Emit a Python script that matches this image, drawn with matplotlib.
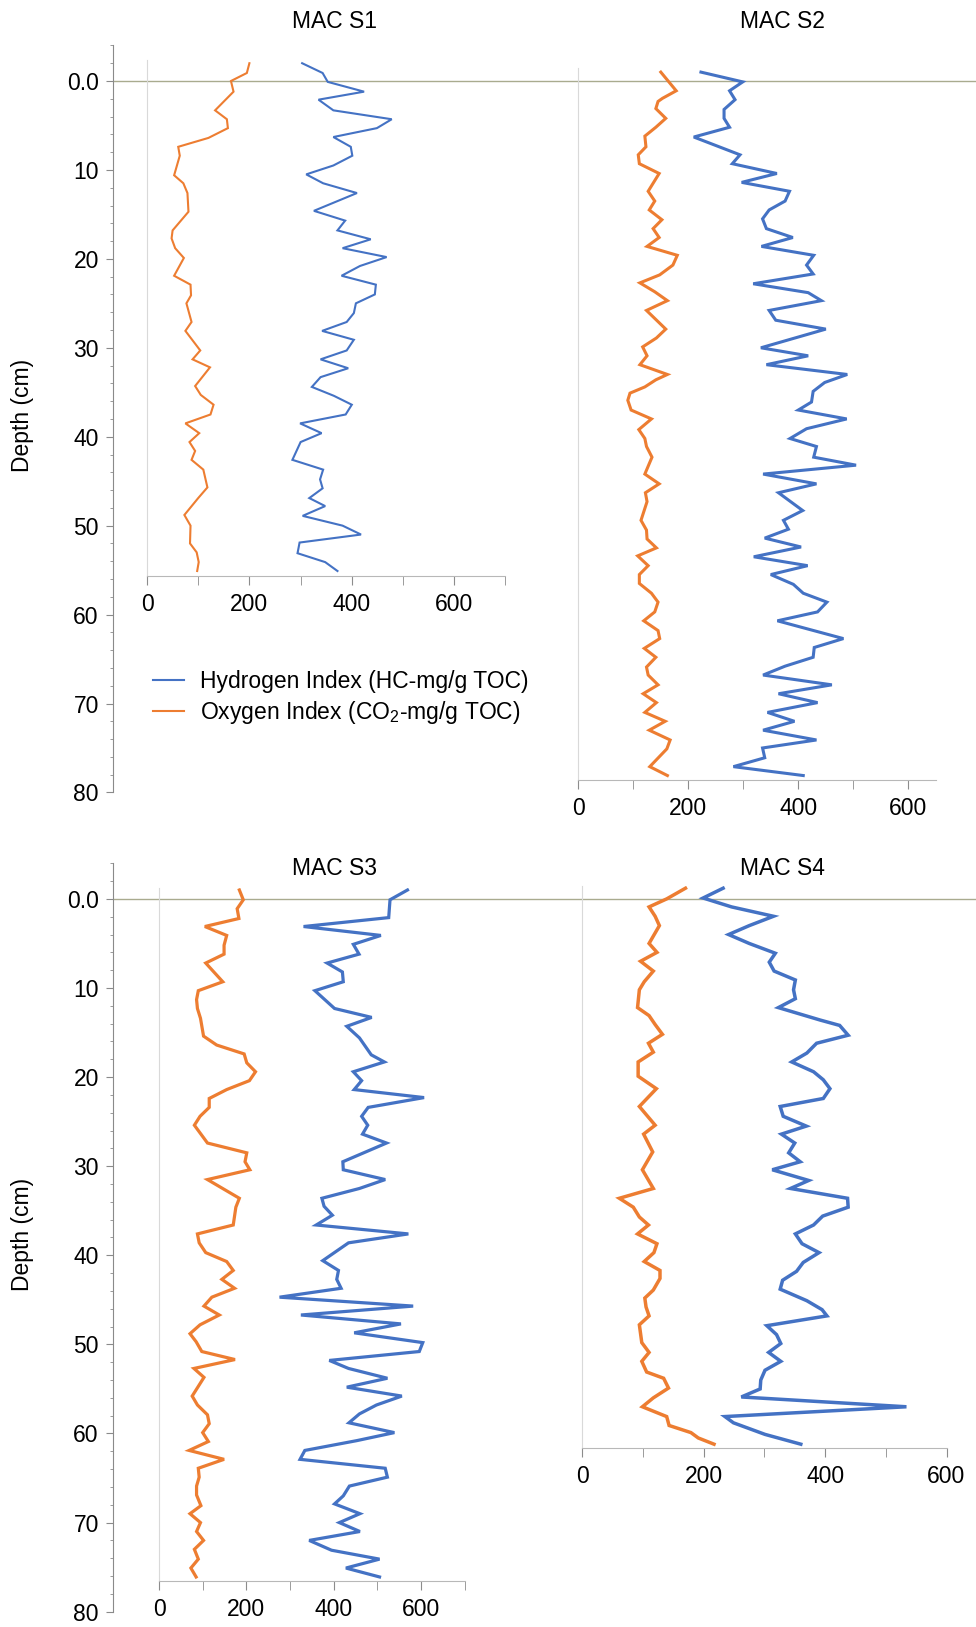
import matplotlib
matplotlib.use('Agg')
import matplotlib.pyplot as plt
from matplotlib.ticker import MultipleLocator, FixedLocator, FixedFormatter

plt.rcParams['font.family'] = ['Liberation Sans', 'DejaVu Sans']
plt.rcParams['mathtext.fontset'] = 'custom'
plt.rcParams['mathtext.rm'] = 'Liberation Sans'
plt.rcParams['mathtext.it'] = 'Liberation Sans:italic'

# ---------------- data (depth in cm, indices in mg/g TOC) ----------------
depth_ticks = [0, 10, 20, 30, 40, 50, 60, 70, 80]
depth_labels = ['0.0', '10', '20', '30', '40', '50', '60', '70', '80']
titles = ['MAC S1', 'MAC S2', 'MAC S3', 'MAC S4']
legend_labels = ['Hydrogen Index (HC-mg/g TOC)', 'Oxygen Index (CO$_2$-mg/g TOC)']

# MAC S1
s1_hi_depth = [-2.0, -0.9, 0.1, 1.2, 2.1, 3.3, 4.3, 5.3, 6.3, 7.4, 8.4, 9.5, 10.5, 11.5, 12.6, 14.6, 15.7,
               16.8, 17.8, 18.8, 19.8, 20.8, 21.9, 22.9, 24.0, 25.0, 26.1, 27.1, 28.1, 29.1, 30.3, 31.3,
               32.3, 33.3, 34.4, 35.4, 36.4, 37.5, 38.5, 39.6, 40.6, 42.6, 43.7, 44.8, 45.8, 46.9, 47.8,
               48.9, 50.0, 51.0, 51.9, 53.1, 54.1, 55.1]
s1_hi = [303, 343, 353, 424, 335, 364, 478, 449, 364, 398, 401, 364, 311, 344, 410, 326, 387, 372, 437,
         382, 468, 416, 380, 447, 445, 408, 404, 390, 342, 404, 390, 339, 393, 339, 322, 365, 400, 388,
         299, 341, 300, 284, 344, 338, 343, 317, 348, 304, 382, 418, 298, 294, 348, 372]
s1_oi_depth = [-2.0, -0.9, 0.0, 1.2, 3.3, 4.3, 5.3, 6.4, 7.4, 8.4, 10.6, 11.5, 12.6, 14.7, 16.8, 17.7,
               18.8, 19.9, 21.9, 22.9, 24.1, 25.0, 27.1, 28.1, 30.3, 31.3, 32.2, 34.3, 35.3, 36.4, 37.5,
               38.5, 39.6, 40.6, 41.6, 42.6, 43.7, 45.7, 46.9, 48.8, 50.0, 52.0, 53.0, 54.1, 55.1]
s1_oi = [200, 195, 164, 169, 133, 156, 158, 120, 61, 64, 53, 71, 79, 81, 50, 48, 55, 72, 53, 85, 86, 77,
         87, 75, 104, 89, 123, 94, 105, 130, 124, 75, 102, 83, 94, 87, 110, 118, 100, 73, 85, 84, 97,
         101, 98]

# MAC S2
s2_hi_depth = [-1.0, 0.1, 1.1, 2.1, 3.2, 4.2, 5.2, 6.3, 8.3, 9.3, 10.4, 11.4, 12.4, 13.5, 14.5, 15.5,
               16.6, 17.6, 18.6, 19.6, 20.7, 21.7, 22.8, 23.8, 24.7, 25.8, 26.9, 27.9, 30.0, 30.9, 31.9,
               33.0, 33.9, 34.9, 36.1, 37.0, 38.0, 39.1, 40.2, 41.1, 42.3, 43.2, 44.2, 45.3, 46.3, 48.3,
               49.4, 50.4, 51.4, 52.4, 53.5, 54.5, 55.5, 56.6, 57.6, 58.6, 59.7, 60.7, 62.7, 63.7, 64.8,
               65.8, 66.8, 67.9, 68.9, 69.9, 71.0, 72.0, 73.0, 74.1, 75.0, 76.1, 77.1, 78.1]
s2_hi = [223, 299, 275, 285, 265, 265, 275, 210, 294, 280, 361, 297, 384, 376, 347, 335, 342, 390, 333,
         428, 415, 427, 318, 418, 442, 347, 359, 450, 332, 418, 342, 489, 448, 427, 424, 400, 488, 415,
         385, 433, 428, 505, 336, 433, 364, 408, 373, 382, 339, 405, 319, 417, 350, 391, 409, 452, 435,
         362, 482, 429, 427, 376, 336, 461, 364, 435, 344, 393, 336, 433, 335, 339, 282, 409]
s2_oi_depth = [-1.0, 1.1, 1.95, 2.3, 3.1, 4.2, 5.2, 6.2, 7.4, 8.3, 9.3, 10.4, 12.4, 13.5, 14.5, 15.6,
               16.6, 17.6, 18.6, 19.6, 20.7, 21.8, 22.7, 23.7, 24.7, 25.8, 27.9, 28.9, 29.9, 30.9, 31.9,
               33.0, 33.6, 34.4, 35.1, 35.9, 37.0, 38.0, 39.2, 40.2, 41.1, 42.3, 44.2, 45.3, 46.3, 47.3,
               49.4, 50.5, 51.5, 52.5, 53.4, 54.5, 55.5, 56.5, 57.6, 58.6, 59.7, 60.7, 61.8, 62.7, 63.8,
               64.8, 65.9, 66.8, 67.9, 68.9, 69.9, 71.0, 72.0, 73.0, 74.1, 75.1, 77.1, 78.1]
s2_oi = [150, 178, 153, 145, 141, 159, 141, 121, 123, 109, 111, 147, 127, 139, 129, 152, 136, 147, 125,
         180, 172, 148, 112, 139, 162, 124, 159, 142, 117, 125, 112, 162, 141, 121, 94, 90, 96, 133, 110,
         121, 124, 134, 121, 147, 122, 125, 114, 124, 125, 142, 108, 127, 111, 111, 133, 145, 139, 119,
         145, 148, 120, 141, 124, 127, 145, 118, 142, 121, 158, 129, 167, 161, 130, 162]

# MAC S3
s3_hi_depth = [-1.0, 0.1, 2.1, 3.1, 4.1, 5.1, 6.2, 7.2, 8.2, 9.3, 10.3, 12.3, 13.3, 14.3, 15.6, 17.5,
               18.3, 19.4, 20.4, 21.4, 22.3, 23.4, 24.4, 25.4, 26.4, 27.4, 29.5, 30.4, 31.5, 32.5, 33.6,
               34.5, 35.5, 36.6, 37.6, 38.6, 40.6, 41.7, 42.7, 43.7, 44.7, 45.7, 46.7, 47.7, 48.7, 49.8,
               50.8, 51.8, 52.7, 53.8, 54.8, 55.8, 56.8, 57.8, 58.8, 59.9, 60.8, 61.9, 62.9, 63.9, 64.9,
               65.9, 67.0, 67.9, 69.0, 70.0, 71.0, 72.0, 73.1, 74.1, 75.1, 76.1]
s3_hi = [569, 529, 526, 331, 508, 445, 458, 385, 420, 422, 357, 402, 487, 430, 459, 486, 516, 445, 464,
         447, 607, 479, 464, 478, 466, 521, 421, 422, 518, 459, 373, 378, 397, 360, 571, 434, 375, 411,
         407, 417, 276, 582, 325, 554, 447, 604, 596, 390, 434, 523, 430, 556, 498, 459, 435, 539, 453,
         334, 323, 518, 523, 436, 422, 402, 460, 413, 460, 344, 395, 505, 428, 505]
s3_oi_depth = [-1.0, 0.1, 1.1, 2.2, 3.1, 4.1, 5.2, 6.2, 7.2, 9.3, 10.3, 11.3, 12.3, 13.4, 15.4, 16.4,
               17.4, 18.4, 19.4, 20.4, 21.4, 22.4, 23.4, 24.4, 25.4, 27.4, 28.5, 29.5, 30.4, 31.5, 33.6,
               34.6, 36.6, 37.6, 38.6, 39.7, 40.7, 41.7, 42.7, 43.7, 44.7, 45.7, 46.7, 47.8, 48.8, 49.7,
               50.8, 51.7, 52.7, 53.7, 55.8, 56.8, 57.9, 58.9, 59.9, 60.9, 61.9, 62.9, 63.9, 64.9, 65.9,
               66.9, 68.1, 69.0, 70.0, 71.0, 72.0, 73.0, 74.1, 75.1, 76.1]
s3_oi = [184, 193, 179, 183, 105, 155, 149, 149, 107, 146, 90, 86, 88, 95, 102, 132, 195, 201, 221, 207,
         155, 115, 115, 94, 81, 111, 201, 197, 208, 111, 184, 176, 170, 88, 92, 107, 155, 170, 144, 173,
         121, 103, 138, 94, 71, 85, 98, 174, 80, 103, 76, 88, 111, 115, 100, 113, 69, 149, 90, 92, 86,
         86, 96, 71, 95, 86, 102, 81, 90, 73, 85]

# MAC S4
s4_hi_depth = [-1.2, -0.1, 0.9, 1.95, 3.0, 4.0, 5.0, 6.1, 7.1, 8.1, 9.1, 10.2, 11.2, 12.2, 13.6, 14.2,
               15.3, 16.2, 17.3, 18.3, 19.4, 20.3, 21.3, 22.4, 23.3, 24.4, 25.5, 26.4, 27.4, 28.5, 29.5,
               30.4, 31.6, 32.5, 33.6, 34.6, 35.6, 36.6, 37.6, 38.7, 39.7, 40.8, 41.8, 42.8, 43.8, 45.1,
               46.1, 46.8, 47.9, 48.9, 49.9, 50.9, 51.9, 52.9, 54.0, 55.0, 55.9, 57.0, 58.1, 58.8, 60.1,
               61.2]
s4_hi = [232, 199, 246, 315, 275, 241, 275, 318, 308, 316, 351, 348, 351, 323, 392, 424, 438, 386, 370,
         345, 381, 397, 408, 397, 326, 331, 369, 328, 350, 340, 359, 313, 373, 343, 437, 438, 396, 381,
         351, 362, 390, 364, 353, 330, 326, 370, 395, 403, 304, 320, 327, 307, 327, 301, 294, 293, 262,
         534, 235, 249, 301, 360]
s4_oi_depth = [-1.2, 0.0, 0.9, 1.95, 3.0, 5.0, 6.0, 7.0, 8.1, 9.3, 10.2, 12.2, 13.1, 14.1, 15.2, 16.2,
               17.2, 18.3, 19.9, 21.3, 23.3, 25.4, 26.4, 28.4, 30.4, 32.5, 33.6, 34.6, 35.7, 36.6, 37.6,
               38.7, 39.7, 40.7, 41.7, 42.6, 43.9, 44.8, 45.8, 46.8, 47.8, 49.8, 50.9, 51.9, 53.1, 53.8,
               54.9, 56.0, 57.0, 58.1, 59.1, 59.9, 60.5, 61.2]
s4_oi = [170, 139, 110, 120, 127, 110, 123, 96, 117, 102, 94, 91, 110, 120, 132, 109, 117, 92, 92, 122,
         94, 120, 101, 116, 99, 117, 61, 84, 94, 109, 91, 123, 118, 102, 128, 128, 117, 103, 105, 110,
         94, 98, 110, 98, 106, 134, 142, 117, 99, 139, 143, 179, 191, 217]

# ---------------- styling / layout ----------------
BLUE = '#4472C4'
ORANGE = '#ED7D31'
FS = 16.5
W, H = 976, 1627
fig = plt.figure(figsize=(W / 100, H / 100), dpi=100)


def px_axes(x0, y0, x1, y1):
    return fig.add_axes([x0 / W, 1 - y1 / H, (x1 - x0) / W, (y1 - y0) / H])


def depth_axis(y_zero, scale):
    ax = px_axes(112.7, y_zero - 4 * scale, W, y_zero + 80 * scale)
    ax.set_ylim(80, -4)
    ax.set_xlim(0, 1)
    ax.patch.set_alpha(0)
    for s in ['top', 'right', 'bottom']:
        ax.spines[s].set_visible(False)
    ax.spines['left'].set_color('#8a8a8a')
    ax.set_xticks([])
    ax.yaxis.set_major_locator(FixedLocator(depth_ticks))
    ax.yaxis.set_major_formatter(FixedFormatter(depth_labels))
    ax.yaxis.set_minor_locator(MultipleLocator(2))
    ax.tick_params(axis='y', which='major', length=5, color='#8a8a8a', labelsize=FS, pad=5)
    ax.tick_params(axis='y', which='minor', length=2.4, color='#8a8a8a')
    ax.axhline(0, color='#a9ab8f', lw=1)
    return ax


def core_panel(x0, px100, xmax, y_top, y_bot, y_zero, scale, d_hi, hi, d_oi, oi, lw):
    ax = px_axes(x0, y_top, x0 + px100 * xmax / 100, y_bot)
    ax.patch.set_alpha(0)
    ax.set_xlim(0, xmax)
    ax.set_ylim((y_bot - y_zero) / scale, (y_top - y_zero) / scale)
    ax.spines['top'].set_visible(False)
    ax.spines['right'].set_visible(False)
    ax.spines['left'].set_color('#d9d9d9')
    ax.spines['bottom'].set_color('#b8b8b8')
    ax.set_yticks([])
    ax.xaxis.set_major_locator(MultipleLocator(200))
    ax.xaxis.set_minor_locator(MultipleLocator(100))
    ax.tick_params(axis='x', which='both', length=6.5, color='#8c8c8c', direction='out')
    ax.tick_params(axis='x', which='major', labelsize=FS, pad=6)
    l1, = ax.plot(hi, d_hi, color=BLUE, lw=lw, solid_joinstyle='miter')
    l2, = ax.plot(oi, d_oi, color=ORANGE, lw=lw, solid_joinstyle='miter')
    return ax, l1, l2


TOP_Y0, TOP_SC = 81.0, 8.893
BOT_Y0, BOT_SC = 898.9, 8.91

depth_axis(TOP_Y0, TOP_SC)
depth_axis(BOT_Y0, BOT_SC)

ax1, h1, h2 = core_panel(147.0, 51.2, 700, 60, 576, TOP_Y0, TOP_SC,
                         s1_hi_depth, s1_hi, s1_oi_depth, s1_oi, 1.5)
core_panel(578.3, 55.0, 650, 68.3, 780, TOP_Y0, TOP_SC,
           s2_hi_depth, s2_hi, s2_oi_depth, s2_oi, 2.2)
core_panel(159.0, 43.67, 700, 887.7, 1581, BOT_Y0, BOT_SC,
           s3_hi_depth, s3_hi, s3_oi_depth, s3_oi, 2.3)
core_panel(582.3, 60.7, 600, 886, 1447.7, BOT_Y0, BOT_SC,
           s4_hi_depth, s4_hi, s4_oi_depth, s4_oi, 2.5)

title_pos = [(335, 21), (782.7, 21), (334.3, 868.3), (782.7, 868.3)]
for t, (tx, ty) in zip(titles, title_pos):
    fig.text(tx / W, 1 - ty / H, t, ha='center', va='center', fontsize=FS)

for yc in (415, 1234):
    fig.text(23 / W, 1 - yc / H, 'Depth (cm)', rotation=90, ha='center', va='center', fontsize=FS)

fig.legend([h1, h2], legend_labels, loc='center left', bbox_to_anchor=(152.7 / W, 1 - 698.0 / H),
           frameon=False, fontsize=FS, handlelength=1.35, handletextpad=0.72, labelspacing=0.22,
           borderpad=0, borderaxespad=0)

fig.savefig('out.png', dpi=100)
